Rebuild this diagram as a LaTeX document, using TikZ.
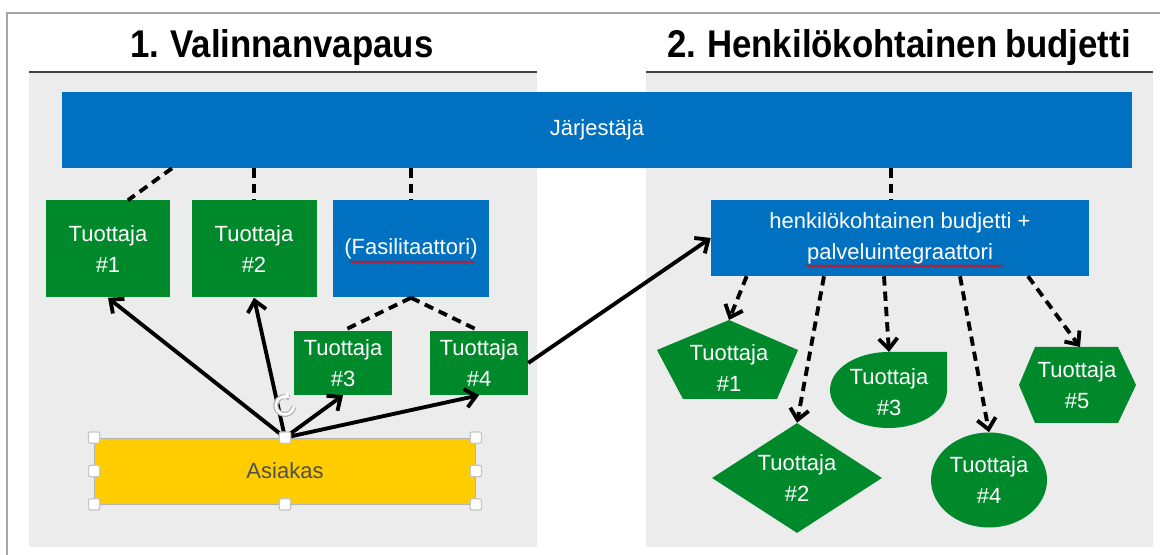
\documentclass[tikz,border=0pt]{standalone}
\usepackage{fontspec}
\setmainfont{Liberation Sans}
\newfontfamily\narrowhead[FakeStretch=0.9, WordSpace=0.8]{Liberation Sans}
\usetikzlibrary{arrows.meta,shapes.geometric,decorations.pathmorphing}
\definecolor{orgblue}{RGB}{0,112,192}
\definecolor{prodgreen}{RGB}{0,137,43}
\definecolor{custyellow}{RGB}{255,204,0}
\definecolor{panelgray}{RGB}{236,236,236}
\definecolor{labelgray}{RGB}{80,80,80}
\tikzset{every node/.append style = {font=\fontsize{16.5}{23}\selectfont}}
\tikzset{titletext/.style = {font=\narrowhead\fontsize{29}{32}\selectfont\bfseries, anchor=base}}
\tikzset{orgbox/.style = {rectangle, fill=orgblue, text=white,
  inner sep=0pt, align=center}}
\tikzset{prodbox/.style = {rectangle, fill=prodgreen, text=white,
  inner sep=0pt, align=center}}
\tikzset{prodtext/.style = {text=white, inner sep=0pt, align=center}}
\tikzset{linkline/.style = {line width=2.9pt, dash pattern=on 7pt off 4.5pt}}
\tikzset{linkarrow/.style = {linkline, -{Straight Barb[length=8pt,width=14pt]}}}
\tikzset{pusharrow/.style = {line width=2.9pt, -{Straight Barb[length=8pt,width=14pt]}}}
\tikzset{handle/.style = {rectangle, draw=gray!45, fill=white, line width=0.9pt,
  minimum size=8.5pt, inner sep=0pt, rounded corners=1.5pt}}
\tikzset{typo/.style = {draw=red, line width=0.6pt, decorate,
  decoration={snake, amplitude=0.8pt, segment length=2.5pt}}}

\begin{document}
\begin{tikzpicture}[x=0.75pt, y=-0.75pt]
  \clip (0,0) rectangle (1160,555);
  \fill[white] (0,0) rectangle (1160,555);
  \draw[gray!70, line width=1.5pt] (7,565) -- (7,13) -- (1170,13);
  \fill[panelgray] (29,72) rectangle (537,547);
  \fill[panelgray] (646,72) rectangle (1153,547);
  \draw[black!75, line width=1.5pt] (29,72) -- (537,72);
  \draw[black!75, line width=1.5pt] (646,72) -- (1153,72);
  \node[titletext] (title1) at (282,58) {1. Valinnanvapaus};
  \node[titletext] (title2) at (899,58) {2. Henkilökohtainen budjetti};

  \node[orgbox, minimum width=802.5pt, minimum height=57pt] (jar) at (597,130) {Järjestäjä};
  \node[prodbox, minimum width=93pt, minimum height=72.75pt] (t1) at (108,249) {Tuottaja\\\#1};
  \node[prodbox, minimum width=93.75pt, minimum height=72.75pt] (t2) at (254,249) {Tuottaja\\\#2};
  \node[orgbox, minimum width=117pt, minimum height=72.75pt] (fa) at (411,249) {(Fasilitaattori)};
  \node[prodbox, minimum width=73.5pt, minimum height=48pt] (t3) at (343,363) {Tuottaja\\\#3};
  \node[prodbox, minimum width=73.5pt, minimum height=48pt] (t4) at (479,363) {Tuottaja\\\#4};
  \node[rectangle, fill=custyellow, draw=gray!60, line width=0.6pt, text=labelgray,
    minimum width=285.75pt, minimum height=49.5pt] (as) at (285,471) {Asiakas};
  \node[orgbox, minimum width=283.5pt, minimum height=57pt] (hb) at (900,238)
    {henkilökohtainen budjetti +\\palveluintegraattori};

  \fill[prodgreen] (729,320) -- (798,350) -- (777,399) -- (683,399) -- (657,350) -- cycle;
  \coordinate (r1top) at (729,320);
  \node[prodtext] (r1) at (729,368) {Tuottaja\\\#1};
  \node[diamond, aspect=1.55, fill=prodgreen, prodtext,
    minimum width=127.5pt, minimum height=82.5pt] (r2) at (797,478) {Tuottaja\\\#2};
  \fill[prodgreen] (947,390) arc[start angle=0, end angle=270, x radius=58.5, y radius=38]
    -- (947,352) -- cycle;
  \coordinate (r3top) at (889,352);
  \node[prodtext] (r3) at (889,392) {Tuottaja\\\#3};
  \node[ellipse, fill=prodgreen, prodtext,
    minimum width=87pt, minimum height=71.25pt] (r4) at (989,480) {Tuottaja\\\#4};
  \fill[prodgreen] (1019,385) -- (1035,347) -- (1118,347) -- (1136,385) -- (1118,423)
    -- (1035,423) -- cycle;
  \coordinate (r5top) at (1080,347);
  \node[prodtext] (r5) at (1077,385) {Tuottaja\\\#5};

  \draw[typo] (350,262) -- (474,262);
  \draw[typo] (806,266) -- (1003,266);

  \draw[linkline] ([xshift=48pt]t1.north |- jar.south) -- ([xshift=15pt]t1.north);
  \draw[linkline] (t2.north |- jar.south) -- (t2.north);
  \draw[linkline] (fa.north |- jar.south) -- (fa.north);
  \draw[linkline] (fa.south) -- (t3.north);
  \draw[linkline] (fa.south) -- (t4.north);
  \draw[linkline] ([xshift=-7pt]hb.north |- jar.south) -- ([xshift=-7pt]hb.north);

  \draw[pusharrow] (as.north) -- (t1.south);
  \draw[pusharrow] (as.north) -- (t2.south);
  \draw[pusharrow] (as.north) -- (t3.south);
  \draw[pusharrow] (as.north) -- (t4.south);
  \draw[pusharrow] (t4.east) -- (hb.west);

  \draw[linkarrow] ([xshift=-115pt]hb.south) -- (r1top);
  \draw[linkarrow] ([xshift=-57pt]hb.south) -- (r2.north);
  \draw[linkarrow] ([xshift=-12pt]hb.south) -- (r3top);
  \draw[linkarrow] ([xshift=45pt]hb.south) -- (r4.north);
  \draw[linkarrow] ([xshift=96pt]hb.south) -- (r5top);

  \foreach \a [count=\i] in {north west, north, north east, east,
      south east, south, south west, west}
    \node[handle] (hd\i) at (as.\a) {};
  \coordinate (rot) at (285,407);
  \draw[gray!60, line width=3.8pt] ([xshift=6.5pt]rot) arc[start angle=10, end angle=300, radius=9];
  \draw[white, line width=1.9pt, -{Triangle[length=3.5pt,width=6pt]}]
    ([xshift=6.5pt]rot) arc[start angle=10, end angle=300, radius=9];
\end{tikzpicture}
\end{document}
